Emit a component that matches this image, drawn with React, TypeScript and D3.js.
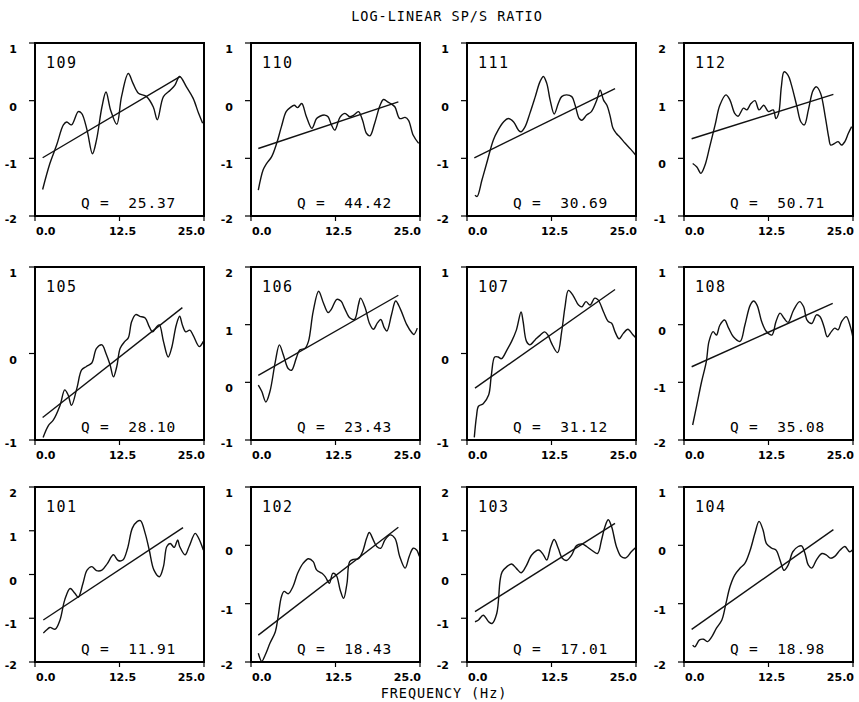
import React from "react";
import * as d3 from "d3";

const W = 859;
const H = 702;

const chartTitle = "LOG-LINEAR SP/S RATIO";
const xAxisTitle = "FREQUENCY (Hz)";
const xTickValues = [0, 12.5, 25];
const xTickLabels = ["0.0", "12.5", "25.0"];

const panelIds = ["109", "110", "111", "112", "105", "106", "107", "108", "101", "102", "103", "104"];
const qValues = ["25.37", "44.42", "30.69", "50.71", "28.10", "23.43", "31.12", "35.08", "11.91", "18.43", "17.01", "18.98"];
const yDomains: [number, number][] = [
  [-2, 1], [-2, 1], [-2, 1], [-1, 2],
  [-1, 1], [-1, 2], [-1, 1], [-2, 1],
  [-2, 2], [-2, 1], [-2, 2], [-2, 1],
];

const fitLines: [number, number][][] = [
  [[1.13, -0.99], [21.5, 0.42]],
  [[1.08, -0.83], [21.8, -0.02]],
  [[1.08, -0.99], [21.9, 0.21]],
  [[1.13, 0.34], [22.1, 1.11]],
  [[1.13, -0.74], [21.8, 0.53]],
  [[1.08, 0.12], [21.8, 1.51]],
  [[1.18, -0.4], [21.9, 0.74]],
  [[1.13, -0.73], [22.0, 0.37]],
  [[1.23, -1.04], [21.9, 1.07]],
  [[1.08, -1.54], [21.8, 0.31]],
  [[1.18, -0.85], [21.9, 1.17]],
  [[1.13, -1.44], [22.1, 0.27]],
];

const curve109: [number, number][] = [[1.13,-1.54],[2.2,-1.09],[3.2,-0.77],[4.2,-0.42],[4.7,-0.37],[5.4,-0.42],[6.4,-0.19],[6.9,-0.22],[7.7,-0.51],[8.5,-0.92],[9.1,-0.68],[9.9,-0.11],[10.5,0.15],[11.2,-0.17],[12.1,-0.41],[12.8,0.07],[13.8,0.47],[14.5,0.3],[15.3,0.13],[16.5,0.07],[17.5,-0.11],[18.1,-0.33],[19.0,0.07],[20.0,0.18],[20.7,0.27],[21.4,0.42],[22.4,0.24],[23.4,0.04],[24.2,-0.22],[24.8,-0.39]];
const curve110: [number, number][] = [[1.08,-1.55],[1.8,-1.2],[2.3,-1.09],[3.06,-0.97],[3.8,-0.74],[4.5,-0.45],[5.2,-0.19],[5.8,-0.12],[6.4,-0.08],[6.9,-0.12],[7.5,-0.05],[8.2,-0.28],[9.0,-0.48],[9.7,-0.31],[10.2,-0.27],[10.9,-0.25],[11.4,-0.28],[11.9,-0.42],[12.4,-0.51],[13.2,-0.28],[13.9,-0.22],[14.6,-0.28],[15.2,-0.25],[15.9,-0.19],[16.5,-0.34],[17.1,-0.57],[17.6,-0.61],[18.3,-0.39],[19.1,-0.08],[19.6,0.02],[20.2,-0.02],[20.8,-0.06],[21.3,-0.11],[22.0,-0.31],[22.8,-0.29],[23.3,-0.34],[24.0,-0.6],[24.8,-0.74]];
const curve111: [number, number][] = [[1.18,-1.64],[1.5,-1.66],[2.2,-1.38],[2.9,-1.09],[3.9,-0.68],[4.6,-0.51],[5.4,-0.37],[6.1,-0.31],[6.9,-0.37],[7.6,-0.51],[8.0,-0.54],[8.6,-0.45],[9.3,-0.22],[10.1,0.07],[10.8,0.33],[11.3,0.42],[11.8,0.3],[12.3,0.01],[12.9,-0.23],[13.5,-0.05],[14.0,0.07],[14.7,0.1],[15.5,0.07],[16.0,-0.08],[16.6,-0.31],[17.0,-0.34],[17.7,-0.25],[18.4,-0.19],[19.2,0.01],[19.7,0.18],[20.2,0.01],[20.7,-0.08],[21.2,-0.28],[21.6,-0.48],[22.1,-0.57],[22.6,-0.63],[23.4,-0.74],[24.2,-0.84],[25.0,-0.95]];
const curve112: [number, number][] = [[1.28,-0.09],[1.9,-0.15],[2.5,-0.26],[3.1,-0.12],[3.8,0.2],[4.6,0.58],[5.3,0.92],[6.2,1.1],[6.8,1.01],[7.5,0.78],[8.0,0.73],[8.8,0.87],[9.3,0.84],[9.9,0.95],[10.5,1.0],[11.1,0.84],[11.8,0.92],[12.5,0.81],[13.2,0.84],[13.6,0.69],[14.0,0.78],[14.4,1.24],[14.8,1.5],[15.4,1.44],[15.9,1.27],[16.7,0.9],[17.3,0.63],[17.8,0.58],[18.4,0.84],[19.1,1.18],[19.6,1.24],[20.2,1.13],[20.9,0.72],[21.4,0.37],[21.7,0.23],[22.3,0.26],[22.8,0.29],[23.3,0.23],[23.8,0.29],[24.3,0.43],[24.8,0.55]];
const curve105: [number, number][] = [[1.2,-0.97],[2.0,-0.83],[2.7,-0.77],[3.7,-0.6],[4.4,-0.42],[4.9,-0.48],[5.4,-0.6],[6.2,-0.4],[6.9,-0.19],[7.6,-0.15],[8.4,-0.11],[9.1,0.06],[9.9,0.1],[10.5,0.0],[11.1,-0.13],[11.6,-0.27],[12.1,-0.15],[12.6,0.06],[13.3,0.14],[13.8,0.18],[14.3,0.37],[14.9,0.45],[15.5,0.43],[16.3,0.41],[16.9,0.31],[17.4,0.25],[18.0,0.31],[18.4,0.33],[19.0,0.14],[19.7,-0.04],[20.2,0.06],[20.9,0.33],[21.4,0.43],[21.8,0.33],[22.3,0.25],[22.9,0.27],[23.4,0.21],[24.3,0.08],[24.9,0.14]];
const curve106: [number, number][] = [[1.08,-0.05],[1.6,-0.16],[2.2,-0.34],[2.8,-0.16],[3.6,0.36],[4.2,0.65],[4.8,0.47],[5.5,0.24],[6.0,0.21],[6.7,0.42],[7.2,0.56],[8.0,0.59],[8.5,0.71],[9.2,1.23],[10.0,1.58],[10.7,1.38],[11.4,1.21],[11.9,1.27],[12.7,1.44],[13.3,1.41],[13.9,1.27],[14.6,1.12],[15.3,1.09],[15.9,1.35],[16.2,1.46],[16.9,1.29],[17.5,1.03],[18.1,0.92],[18.7,1.03],[19.2,1.09],[19.7,0.95],[20.1,0.89],[20.8,1.18],[21.4,1.41],[22.1,1.27],[23.0,1.01],[23.8,0.86],[24.1,0.83],[24.6,0.94]];
const curve107: [number, number][] = [[1.08,-0.97],[1.4,-0.73],[1.7,-0.61],[2.4,-0.58],[3.2,-0.48],[3.6,-0.25],[4.1,-0.04],[4.6,-0.04],[5.1,-0.06],[5.9,0.04],[6.6,0.14],[7.3,0.27],[8.0,0.48],[8.3,0.37],[8.8,0.14],[9.3,0.1],[10.1,0.16],[10.8,0.21],[11.5,0.25],[12.0,0.21],[12.5,0.12],[13.4,0.01],[14.0,0.25],[14.5,0.54],[15.0,0.73],[15.7,0.67],[16.5,0.56],[17.0,0.54],[17.6,0.6],[18.2,0.56],[18.9,0.64],[19.4,0.62],[20.2,0.48],[20.9,0.37],[21.4,0.35],[21.9,0.25],[22.5,0.17],[23.1,0.23],[23.8,0.28],[24.5,0.22],[25.0,0.18]];
const curve108: [number, number][] = [[1.28,-1.74],[1.9,-1.39],[2.6,-0.99],[3.3,-0.64],[3.7,-0.29],[4.3,-0.12],[4.8,-0.18],[5.3,-0.01],[6.0,0.08],[6.6,-0.06],[7.3,-0.21],[8.3,-0.29],[9.0,-0.01],[9.8,0.34],[10.3,0.41],[10.8,0.34],[11.5,0.05],[12.2,-0.12],[13.0,-0.18],[13.6,0.05],[14.2,0.2],[14.8,0.11],[15.4,0.04],[16.2,0.25],[17.1,0.4],[17.7,0.31],[18.2,0.08],[18.9,0.02],[19.6,0.17],[20.1,0.14],[20.7,-0.03],[21.2,-0.21],[21.8,-0.12],[22.3,-0.06],[22.8,-0.09],[23.3,0.05],[24.0,0.14],[24.6,-0.03],[25.0,-0.23]];
const curve101: [number, number][] = [[1.23,-1.34],[1.7,-1.27],[2.2,-1.21],[3.0,-1.25],[3.7,-1.04],[4.4,-0.58],[5.2,-0.32],[5.9,-0.43],[6.4,-0.52],[7.1,-0.2],[7.7,0.1],[8.4,0.18],[9.1,0.09],[9.9,0.1],[10.7,0.25],[11.6,0.45],[12.3,0.32],[13.0,0.33],[13.7,0.6],[14.4,1.06],[15.1,1.21],[15.6,1.23],[16.3,0.94],[16.9,0.56],[17.6,0.1],[18.4,-0.05],[19.0,0.18],[19.5,0.64],[20.0,0.71],[20.6,0.62],[21.1,0.79],[21.4,0.64],[22.2,0.45],[22.8,0.64],[23.7,0.94],[24.2,0.83],[24.9,0.56]];
const curve102: [number, number][] = [[1.08,-1.85],[1.6,-1.99],[2.1,-1.88],[2.8,-1.68],[3.6,-1.48],[4.0,-1.23],[4.5,-0.88],[4.9,-0.79],[5.5,-0.83],[6.2,-0.71],[6.9,-0.48],[7.7,-0.31],[8.5,-0.23],[9.2,-0.28],[9.7,-0.42],[10.5,-0.48],[11.0,-0.54],[11.6,-0.65],[12.1,-0.48],[12.6,-0.51],[13.2,-0.77],[13.7,-0.91],[14.2,-0.65],[14.6,-0.28],[15.2,-0.24],[15.9,-0.23],[16.5,-0.11],[17.1,0.12],[17.5,0.22],[18.1,0.09],[18.6,-0.02],[19.2,-0.05],[19.8,0.09],[20.6,0.18],[21.3,0.12],[22.0,-0.19],[22.8,-0.39],[23.4,-0.19],[24.0,-0.05],[24.5,-0.08],[24.9,-0.19]];
const curve103: [number, number][] = [[1.18,-1.08],[1.7,-1.04],[2.4,-0.93],[3.2,-1.08],[3.7,-1.12],[4.4,-0.89],[4.9,-0.13],[5.2,0.06],[5.9,0.18],[6.6,0.24],[7.3,0.14],[8.0,0.04],[8.7,0.18],[9.6,0.45],[10.6,0.56],[11.3,0.45],[11.8,0.33],[12.4,0.64],[12.9,0.8],[13.5,0.6],[14.1,0.37],[14.7,0.32],[15.5,0.45],[16.2,0.66],[17.0,0.7],[17.7,0.64],[18.4,0.56],[19.3,0.48],[19.9,0.79],[20.4,1.09],[20.9,1.25],[21.4,1.09],[22.1,0.64],[22.8,0.41],[23.5,0.38],[24.3,0.52],[25.0,0.62]];
const curve104: [number, number][] = [[1.28,-1.71],[1.6,-1.74],[2.3,-1.62],[2.9,-1.61],[3.5,-1.65],[4.1,-1.57],[4.8,-1.42],[5.6,-1.28],[6.2,-1.0],[6.8,-0.71],[7.5,-0.51],[8.3,-0.39],[9.0,-0.31],[9.8,-0.08],[10.5,0.21],[11.1,0.41],[11.7,0.26],[12.2,0.03],[13.0,-0.05],[13.6,-0.08],[14.2,-0.25],[14.8,-0.43],[15.4,-0.34],[16.1,-0.11],[16.9,-0.02],[17.4,-0.01],[17.9,-0.14],[18.4,-0.34],[18.9,-0.39],[19.6,-0.25],[20.4,-0.14],[21.1,-0.17],[21.7,-0.22],[22.3,-0.19],[23.1,-0.08],[23.8,-0.02],[24.5,-0.11],[24.9,-0.08]];

const curves = [curve109, curve110, curve111, curve112, curve105, curve106, curve107, curve108, curve101, curve102, curve103, curve104];

// layout
const colLefts = [35, 251, 467, 684];
const rowTops = [43, 267, 487];
const rowHeights = [173, 173, 175];
const panelW = 169;

const monoFont = "'DejaVu Sans Mono', monospace";
const tickFont = "'DejaVu Sans', sans-serif";

function Panel({ idx }: { idx: number }) {
  const col = idx % 4;
  const row = Math.floor(idx / 4);
  const left = colLefts[col];
  const top = rowTops[row];
  const h = rowHeights[row];
  const bottom = top + h;
  const right = left + panelW;
  const x = d3.scaleLinear().domain([0, 25]).range([left, right]);
  const [y0, y1] = yDomains[idx];
  const y = d3.scaleLinear().domain([y0, y1]).range([bottom, top]);
  const yTicks = d3.range(y0, y1 + 1);
  const line = d3
    .line<[number, number]>()
    .x((d) => x(d[0]))
    .y((d) => y(d[1]))
    .curve(d3.curveCatmullRom.alpha(0.5));
  const straight = d3
    .line<[number, number]>()
    .x((d) => x(d[0]))
    .y((d) => y(d[1]));
  const clipId = `clip-${idx}`;
  return (
    <g>
      <defs>
        <clipPath id={clipId}>
          <rect x={left} y={top} width={panelW} height={h} />
        </clipPath>
      </defs>
      <g clipPath={`url(#${clipId})`}>
        <path d={line(curves[idx]) || ""} fill="none" stroke="#111" strokeWidth={1.4} />
        <path d={straight(fitLines[idx]) || ""} fill="none" stroke="#111" strokeWidth={1.4} />
      </g>
      <rect x={left} y={top} width={panelW} height={h} fill="none" stroke="#000" strokeWidth={2} />
      {yTicks.map((t) => (
        <g key={`y${t}`}>
          <line x1={left - 6} x2={left} y1={y(t)} y2={y(t)} stroke="#000" strokeWidth={1.2} />
          <text
            x={left - 18}
            y={y(t) + (t === y0 ? 7 : 10)}
            textAnchor="end"
            fontFamily={tickFont}
            fontWeight="bold"
            fontSize={11}
            fill="#000"
          >
            {t}
          </text>
        </g>
      ))}
      {xTickValues.map((t, i) => (
        <g key={`x${i}`}>
          <line x1={x(t)} x2={x(t)} y1={bottom} y2={bottom + 5} stroke="#000" strokeWidth={1.2} />
          <text
            x={i === 0 ? x(t) + 1 : i === 2 ? x(t) + 1 : x(t) + 3}
            y={bottom + 19}
            textAnchor={i === 0 ? "start" : i === 2 ? "end" : "middle"}
            fontFamily={tickFont}
            fontWeight="bold"
            fontSize={11}
            fill="#000"
          >
            {xTickLabels[i]}
          </text>
        </g>
      ))}
      <text x={left + 11} y={top + 25} fontFamily={monoFont} fontSize={15} letterSpacing={1.5} fill="#000">
        {panelIds[idx]}
      </text>
      <text x={left + 46} y={bottom - 8} fontFamily={monoFont} fontSize={14.5} letterSpacing={0.8} fill="#000">
        Q =
      </text>
      <text x={left + 141} y={bottom - 8} textAnchor="end" fontFamily={monoFont} fontSize={14.5} letterSpacing={0.8} fill="#000">
        {qValues[idx]}
      </text>
    </g>
  );
}

export default function App() {
  return (
    <svg
      width={W}
      height={H}
      viewBox={`0 0 ${W} ${H}`}
      style={{ position: "absolute", left: 0, top: 0, background: "#fff" }}
    >
      <rect x={0} y={0} width={W} height={H} fill="#fff" />
      <text x={447} y={21} textAnchor="middle" fontFamily={monoFont} fontSize={13.5} letterSpacing={1} fill="#000">
        {chartTitle}
      </text>
      {panelIds.map((_, i) => (
        <Panel key={i} idx={i} />
      ))}
      <text x={444} y={698} textAnchor="middle" fontFamily={monoFont} fontSize={13.5} letterSpacing={0.9} fill="#000">
        {xAxisTitle}
      </text>
    </svg>
  );
}
